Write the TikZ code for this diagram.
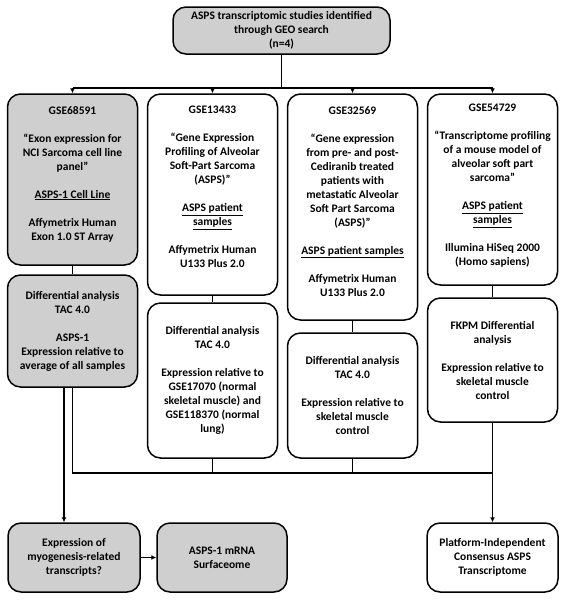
\documentclass[tikz,border=0pt]{standalone}
\usepackage{fontspec}
\setmainfont{Carlito}
\usetikzlibrary{arrows.meta}
\definecolor{boxgray}{RGB}{208,207,207}
\tikzset{
  box/.style={draw, line width=1.5pt, rounded corners=13pt, inner sep=0pt, align=center,
    font=\bfseries\fontsize{11.5}{14}\selectfont},
  gbox/.style={box, fill=boxgray},
  wbox/.style={box, fill=white},
  txt/.style={align=center, inner sep=0pt, anchor=north, font=\bfseries\fontsize{11.5}{14}\selectfont},
  conn/.style={line width=1.5pt},
  arr/.style={conn, -{Latex[length=5pt,width=5pt]}}
}
\begin{document}
\begin{tikzpicture}[x=1pt,y=-1pt]
\useasboundingbox (0,0) rectangle (565,600);
% top
\node[gbox, minimum width=217pt, minimum height=47pt] (top) at (281.5,30.5)
  {ASPS transcriptomic studies identified\\through GEO search\\(n=4)};
% row 1 boxes
\node[gbox, minimum width=130pt, minimum height=171pt] (b1) at (72.5,179.5) {};
\node[wbox, minimum width=130pt, minimum height=201pt] (b2) at (212.5,194.5) {};
\node[wbox, minimum width=130pt, minimum height=226pt] (b3) at (352.5,207) {};
\node[wbox, minimum width=130pt, minimum height=191pt] (b4) at (492.5,189.5) {};
\node[txt] (b1t) at (72.5,106) {GSE68591\\[14pt]“Exon expression for\\NCI Sarcoma cell line\\panel”\\[14pt]\underline{ASPS-1 Cell Line}\\[14pt]Affymetrix Human\\Exon 1.0 ST Array};
\node[txt] (b2t) at (212.5,106) {GSE13433\\[14pt]“Gene Expression\\Profiling of Alveolar\\Soft-Part Sarcoma\\(ASPS)”\\[14pt]\underline{ASPS patient}\\\underline{samples}\\[14pt]Affymetrix Human\\U133 Plus 2.0};
\node[txt] (b3t) at (352.5,106) {GSE32569\\[14pt]“Gene expression\\from pre- and post-\\Cediranib treated\\patients with\\metastatic Alveolar\\Soft Part Sarcoma\\(ASPS)”\\[14pt]\underline{ASPS patient samples}\\[14pt]Affymetrix Human\\U133 Plus 2.0};
\node[txt] (b4t) at (492.5,104) {GSE54729\\[14pt]“Transcriptome profiling\\of a mouse model of\\alveolar soft part\\sarcoma”\\[14pt]\underline{ASPS patient}\\\underline{samples}\\[14pt]Illumina HiSeq 2000\\(Homo sapiens)};
% row 2 boxes
\node[gbox, minimum width=130pt, minimum height=112pt] (c1) at (72.5,331)
  {Differential analysis\\TAC 4.0\\[14pt]ASPS-1\\Expression relative to\\average of all samples};
\node[wbox, minimum width=130pt, minimum height=155pt] (c2) at (212.5,380.5)
  {Differential analysis\\TAC 4.0\\[14pt]Expression relative to\\GSE17070 (normal\\skeletal muscle) and\\GSE118370 (normal\\lung)};
\node[wbox, minimum width=130pt, minimum height=125pt] (c3) at (352.5,395.5)
  {Differential analysis\\TAC 4.0\\[14pt]Expression relative to\\skeletal muscle\\control};
\node[wbox, minimum width=130pt, minimum height=124pt] (c4) at (492.5,360)
  {FKPM Differential\\analysis\\[14pt]Expression relative to\\skeletal muscle\\control};
% bottom boxes
\node[gbox, minimum width=132pt, minimum height=69pt] (d1) at (74,557.5)
  {Expression of\\myogenesis-related\\transcripts?};
\node[gbox, minimum width=130pt, minimum height=69pt] (d2) at (222,557.5)
  {ASPS-1 mRNA\\Surfaceome};
\node[wbox, minimum width=131pt, minimum height=69pt] (d3) at (492.5,557.5)
  {Platform-Independent\\Consensus ASPS\\Transcriptome};
% connectors top
\coordinate (h1) at (0,88);
\draw[conn] (top.south) -- (top.south |- h1);
\draw[conn] (b1.north |- h1) -- (b4.north |- h1);
\foreach \n in {b1,b2,b3,b4} \draw[arr] (\n.north |- h1) -- (\n.north);
% row 1 to row 2
\draw[conn] (b1.south) -- (c1.north);
\draw[conn] (b2.south) -- (c2.north);
\draw[conn] (b3.south) -- (c3.north);
\draw[conn] (b4.south) -- (c4.north);
% bottom
\coordinate (h2) at (0,473);
\draw[arr] ([xshift=-8.5pt]c1.south) -- ([xshift=-8.5pt]c1.south |- d1.north);
\draw[conn] (c1.south) -- (c1.south |- h2) -- (c4.south |- h2);
\draw[conn] (c2.south) -- (c2.south |- h2);
\draw[conn] (c3.south) -- (c3.south |- h2);
\draw[arr] (c4.south) -- (d3.north);
\draw[arr] (d1.east) -- (d2.west);
\end{tikzpicture}
\end{document}
